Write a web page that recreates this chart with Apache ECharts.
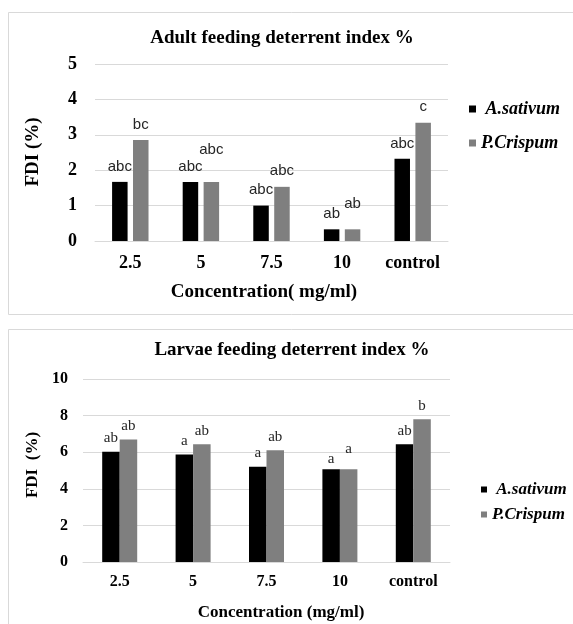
<!DOCTYPE html>
<html>
<head>
<meta charset="utf-8">
<title>Feeding deterrent index</title>
<script src="https://cdn.jsdelivr.net/npm/echarts@6/dist/echarts.min.js"></script>
<style>
html, body { margin: 0; padding: 0; background: #fff; }
#main { width: 573px; height: 624px; }
</style>
</head>
<body>
<div id="main"></div>
<script>
var concentrations = ['2.5', '5', '7.5', '10', 'control'];
var seriesNames = ['A.sativum', 'P.Crispum'];

// adult feeding deterrent index (%)
var adultSativum = [1.67, 1.67, 1.0, 0.33, 2.32];
var adultCrispum = [2.85, 1.67, 1.53, 0.33, 3.34];
var adultSativumLetters = ['abc', 'abc', 'abc', 'ab', 'abc'];
var adultCrispumLetters = ['bc', 'abc', 'abc', 'ab', 'c'];

// larvae feeding deterrent index (%)
var larvaeSativum = [6.03, 5.88, 5.21, 5.07, 6.43];
var larvaeCrispum = [6.70, 6.43, 6.10, 5.07, 7.80];
var larvaeSativumLetters = ['ab', 'a', 'a', 'a', 'ab'];
var larvaeCrispumLetters = ['ab', 'ab', 'ab', 'a', 'b'];

var SERIF = '"Liberation Serif", "Times New Roman", serif';
var SANS = '"Liberation Sans", Arial, sans-serif';
var GRID_LINE = '#d9d9d9';

// extra upward shift of some letter labels (moved by hand in the original)
var adultSativumLift = [0, 0, 0, 0, 0];
var adultCrispumLift = [0, 17, 0, 10, 0];
var larvaeSativumLift = [0, 0, 0, -3, 0];
var larvaeCrispumLift = [0, 0, 0, 7, 0];

function barSeries(name, idx, values, letters, lift, color, opts) {
    return {
        name: name,
        type: 'bar',
        xAxisIndex: idx,
        yAxisIndex: idx,
        barWidth: opts.barWidth,
        barGap: opts.barGap,
        itemStyle: { color: color },
        label: {
            show: true,
            position: 'top',
            distance: opts.distance,
            color: '#262626',
            fontFamily: opts.font,
            fontSize: opts.fontSize,
            formatter: function (p) { return letters[p.dataIndex]; }
        },
        data: values.map(function (v, i) {
            return lift[i] ? { value: v, label: { offset: [0, -lift[i]] } } : v;
        })
    };
}

function xAxis(idx, size, margin) {
    return {
        type: 'category',
        gridIndex: idx,
        data: concentrations,
        axisTick: { show: false },
        axisLine: { lineStyle: { color: GRID_LINE } },
        axisLabel: { interval: 0, color: '#000', fontFamily: SERIF, fontWeight: 'bold', fontSize: size, margin: margin }
    };
}

function yAxis(idx, max, interval, size, margin) {
    return {
        type: 'value',
        gridIndex: idx,
        min: 0,
        max: max,
        interval: interval,
        axisLine: { show: false },
        axisTick: { show: false },
        splitLine: { lineStyle: { color: GRID_LINE } },
        axisLabel: { color: '#000', fontFamily: SERIF, fontWeight: 'bold', fontSize: size, margin: margin }
    };
}

function label(text, x, y, size, rotate) {
    return {
        type: 'text',
        x: x,
        y: y,
        rotation: rotate ? Math.PI / 2 : 0,
        style: {
            text: text,
            font: 'bold ' + size + 'px ' + SERIF,
            fill: '#000',
            align: 'center',
            verticalAlign: 'middle',
            textAlign: 'center',
            textVerticalAlign: 'middle'
        }
    };
}

function legendText(size) {
    return { color: '#000', fontFamily: SERIF, fontWeight: 'bold', fontStyle: 'italic', fontSize: size, lineHeight: size + 2 };
}

var myChart = echarts.init(document.getElementById('main'));

var option = {
    backgroundColor: '#fff',
    animation: false,
    grid: [
        { left: 95, top: 64, width: 353, height: 177 },
        { left: 83, top: 379, width: 367, height: 183 }
    ],
    xAxis: [xAxis(0, 18, 13), xAxis(1, 16, 12)],
    yAxis: [yAxis(0, 5, 1, 18, 18), yAxis(1, 10, 2, 16, 15)],
    legend: [
        {
            data: seriesNames, orient: 'vertical', left: 469, top: 99, padding: 0,
            icon: 'rect', itemWidth: 7, itemHeight: 7, itemGap: 14,
            textStyle: legendText(18),
            formatter: function (n) { return n === 'A.sativum' ? ' ' + n : n; }
        },
        {
            data: seriesNames, orient: 'vertical', left: 481, top: 480, padding: 0,
            icon: 'rect', itemWidth: 6, itemHeight: 6, itemGap: 6,
            textStyle: legendText(17),
            formatter: function (n) { return n === 'A.sativum' ? ' ' + n : n; }
        }
    ],
    graphic: [
        { type: 'rect', shape: { x: 8.5, y: 12.5, width: 600, height: 302 }, style: { fill: 'none', stroke: GRID_LINE } },
        { type: 'rect', shape: { x: 8.5, y: 329.5, width: 600, height: 400 }, style: { fill: 'none', stroke: GRID_LINE } },
        label('Adult feeding deterrent index %', 282, 38, 19),
        label('Concentration( mg/ml)', 264, 292, 19),
        label('FDI (%)', 33, 152, 19, true),
        label('Larvae feeding deterrent index %', 292, 350, 19),
        label('Concentration (mg/ml)', 281, 613, 17),
        label('FDI  (%)', 33, 465, 17, true)
    ],
    series: [
        barSeries('A.sativum', 0, adultSativum, adultSativumLetters, adultSativumLift, '#000000',
            { barWidth: 15.5, barGap: '35%', distance: 8, font: SANS, fontSize: 15 }),
        barSeries('P.Crispum', 0, adultCrispum, adultCrispumLetters, adultCrispumLift, '#7f7f7f',
            { barWidth: 15.5, barGap: '35%', distance: 8, font: SANS, fontSize: 15 }),
        barSeries('A.sativum', 1, larvaeSativum, larvaeSativumLetters, larvaeSativumLift, '#000000',
            { barWidth: 17.5, barGap: '0%', distance: 6, font: SERIF, fontSize: 15 }),
        barSeries('P.Crispum', 1, larvaeCrispum, larvaeCrispumLetters, larvaeCrispumLift, '#7f7f7f',
            { barWidth: 17.5, barGap: '0%', distance: 6, font: SERIF, fontSize: 15 })
    ]
};

myChart.setOption(option);
onresize = myChart.resize;
</script>
</body>
</html>
